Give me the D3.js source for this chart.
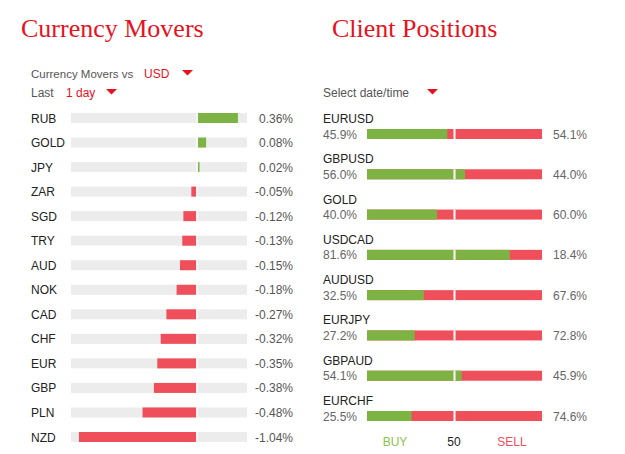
<!DOCTYPE html>
<html>
<head>
<meta charset="utf-8">
<script src="https://cdn.jsdelivr.net/npm/d3@7"></script>
<style>
  body { margin: 0; background: #fff; }
  text { font-family: "Liberation Sans", Arial, sans-serif; }
</style>
</head>
<body>
<svg id="chart" width="625" height="454"></svg>
<script>
// currency movers vs USD, last 1 day
var currencies = ["RUB", "GOLD", "JPY", "ZAR", "SGD", "TRY", "AUD", "NOK", "CAD", "CHF", "EUR", "GBP", "PLN", "NZD"];
var moves = [0.36, 0.08, 0.02, -0.05, -0.12, -0.13, -0.15, -0.18, -0.27, -0.32, -0.35, -0.38, -0.48, -1.04];

// client positions
var pairs = ["EURUSD", "GBPUSD", "GOLD", "USDCAD", "AUDUSD", "EURJPY", "GBPAUD", "EURCHF"];
var buyPct = [45.9, 56.0, 40.0, 81.6, 32.5, 27.2, 54.1, 25.5];
var sellPct = [54.1, 44.0, 60.0, 18.4, 67.6, 72.8, 45.9, 74.6];

var green = "#7cb342", red = "#ef4f5a", track = "#ececec";

var svg = d3.select("#chart");

function triangle(x, y) {
  svg.append("path")
    .attr("d", "M" + x + "," + y + "l11,0l-5.5,5.5z")
    .attr("fill", "#e8111e");
}

// ---- titles
svg.append("text").attr("x", 21).attr("y", 37)
  .attr("fill", "#e8111e").style("font-family", "'Liberation Serif', serif").style("font-size", "26px")
  .text("Currency Movers");
svg.append("text").attr("x", 332).attr("y", 37)
  .attr("fill", "#e8111e").style("font-family", "'Liberation Serif', serif").style("font-size", "26px")
  .text("Client Positions");

// ---- selectors
svg.append("text").attr("x", 31).attr("y", 78).attr("fill", "#555").style("font-size", "11.5px").text("Currency Movers vs");
svg.append("text").attr("x", 144).attr("y", 78).attr("fill", "#e8111e").style("font-size", "12px").text("USD");
triangle(182, 70);
svg.append("text").attr("x", 31).attr("y", 97).attr("fill", "#555").style("font-size", "12px").text("Last");
svg.append("text").attr("x", 66).attr("y", 97).attr("fill", "#e8111e").style("font-size", "12px").text("1 day");
triangle(106, 89);

svg.append("text").attr("x", 323).attr("y", 97).attr("fill", "#555").style("font-size", "12px").text("Select date/time");
triangle(427, 89);

// ---- currency movers bars
var x = d3.scaleLinear().domain([-1.11, 0.44]).range([71, 247]);
var y = d3.scalePoint().domain(currencies).range([118, 437]);
var rows = currencies.map(function (c, i) { return { name: c, v: moves[i] }; });

var g = svg.append("g").attr("class", "movers");
var row = g.selectAll("g").data(rows).enter().append("g")
  .attr("transform", function (d) { return "translate(0," + y(d.name) + ")"; });

row.append("rect")
  .attr("x", x.range()[0]).attr("y", -5)
  .attr("width", x.range()[1] - x.range()[0]).attr("height", 10)
  .attr("fill", track);

row.append("rect")
  .attr("x", function (d) { return d.v < 0 ? x(d.v) : x(0) + 1; })
  .attr("y", -5)
  .attr("width", function (d) { return Math.max(1.5, Math.abs(x(d.v) - x(0)) - 1); })
  .attr("height", 10)
  .attr("fill", function (d) { return d.v < 0 ? red : green; });

row.append("rect")
  .attr("x", x(0) - 0.5).attr("y", -5).attr("width", 1).attr("height", 10)
  .attr("fill", "#fff");

row.append("text").attr("x", 31).attr("y", 4.5)
  .attr("fill", "#222").style("font-size", "12px")
  .text(function (d) { return d.name; });

row.append("text").attr("x", 293).attr("y", 4.5).attr("text-anchor", "end")
  .attr("fill", "#555").style("font-size", "12px")
  .text(function (d) { return d.v.toFixed(2) + "%"; });

// ---- client positions bars
var px = d3.scaleLinear().domain([0, 100]).range([367, 542]);
var py = d3.scalePoint().domain(pairs).range([134, 416]);
var pos = pairs.map(function (p, i) { return { name: p, buy: buyPct[i], sell: sellPct[i] }; });

var pg = svg.append("g").attr("class", "positions");
var prow = pg.selectAll("g").data(pos).enter().append("g")
  .attr("transform", function (d) { return "translate(0," + py(d.name) + ")"; });

prow.append("rect")
  .attr("x", px(0)).attr("y", -5)
  .attr("width", px(100) - px(0)).attr("height", 10)
  .attr("fill", red);

prow.append("rect")
  .attr("x", px(0)).attr("y", -5)
  .attr("width", function (d) { return px(d.buy) - px(0); }).attr("height", 10)
  .attr("fill", green);

prow.append("rect")
  .attr("x", px(50) - 1).attr("y", -5).attr("width", 2).attr("height", 10)
  .attr("fill", "#fff");

prow.append("text").attr("x", 323).attr("y", -11)
  .attr("fill", "#222").style("font-size", "12px")
  .text(function (d) { return d.name; });

prow.append("text").attr("x", 323).attr("y", 4.5)
  .attr("fill", "#666").style("font-size", "12px")
  .text(function (d) { return d.buy.toFixed(1) + "%"; });

prow.append("text").attr("x", 553).attr("y", 4.5)
  .attr("fill", "#666").style("font-size", "12px")
  .text(function (d) { return d.sell.toFixed(1) + "%"; });

// ---- legend
svg.append("text").attr("x", 395).attr("y", 446).attr("text-anchor", "middle")
  .attr("fill", "#8bc34a").style("font-size", "12px").text("BUY");
svg.append("text").attr("x", 454).attr("y", 446).attr("text-anchor", "middle")
  .attr("fill", "#222").style("font-size", "12px").text("50");
svg.append("text").attr("x", 512).attr("y", 446).attr("text-anchor", "middle")
  .attr("fill", red).style("font-size", "12px").text("SELL");
</script>
</body>
</html>
